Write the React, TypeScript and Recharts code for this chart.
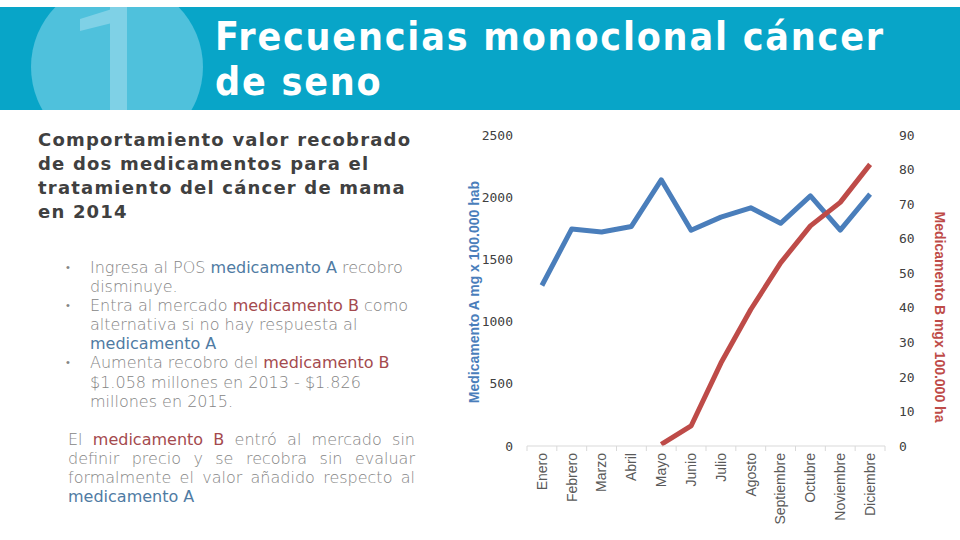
import { Line, LineChart, XAxis, YAxis } from "recharts";

const months = [
  "Enero",
  "Febrero",
  "Marzo",
  "Abril",
  "Mayo",
  "Junio",
  "Julio",
  "Agosto",
  "Septiembre",
  "Octubre",
  "Noviembre",
  "Diciembre",
];
const medicamentoA = [1290, 1745, 1720, 1765, 2140, 1735, 1840, 1915, 1790, 2010, 1735, 2025];
const medicamentoB = [null, null, null, null, 0.5, 5.8, 24, 39.5, 53, 63.7, 70.5, 81.5];
const ticksA = [0, 500, 1000, 1500, 2000, 2500];
const ticksB = [0, 10, 20, 30, 40, 50, 60, 70, 80, 90];

const data = months.map((month, i) => ({
  month,
  a: medicamentoA[i],
  b: medicamentoB[i],
}));

const blue = "#4a7ebb";
const red = "#be4b48";
const grayText = "#858585";
const blueText = "#4f7ba3";
const redText = "#a44a4e";

const CHART_W = 500;
const CHART_H = 420;
const LEFT_W = 67;
const RIGHT_W = 75;
const BAND = (CHART_W - LEFT_W - RIGHT_W) / months.length;

const tickFont = { fontSize: 13, fill: "#404040", fontFamily: '"DejaVu Sans Mono", monospace' };

function MonthTick(props: any) {
  const { x, y, payload, index } = props;
  const axisY = y - 7;
  const last = index === months.length - 1 || payload.value === months[months.length - 1];
  return (
    <g>
      <line x1={x - BAND / 2} x2={x - BAND / 2} y1={axisY} y2={axisY + 5} stroke="#d9d9d9" />
      {last && <line x1={x + BAND / 2} x2={x + BAND / 2} y1={axisY} y2={axisY + 5} stroke="#d9d9d9" />}
      <text
        x={x}
        y={y}
        transform={`rotate(-90, ${x}, ${y})`}
        textAnchor="end"
        dy="0.35em"
        fontSize={14}
        fill="#595959"
        fontFamily='"Liberation Sans", Arial, sans-serif'
      >
        {payload.value}
      </text>
    </g>
  );
}

const A = ({ children }: { children: string }) => <span style={{ color: blueText, fontWeight: 400 }}>{children}</span>;
const B = ({ children }: { children: string }) => <span style={{ color: redText, fontWeight: 400 }}>{children}</span>;

export default function App() {
  const bodyFont: React.CSSProperties = {
    fontFamily: '"DejaVu Sans", Verdana, sans-serif',
    fontSize: 16,
    fontWeight: 200,
    color: grayText,
    whiteSpace: "nowrap",
  };
  const bulletLines: { bullet: boolean; content: React.ReactNode }[] = [
    { bullet: true, content: <>Ingresa al POS <A>medicamento A</A> recobro</> },
    { bullet: false, content: <>disminuye.</> },
    { bullet: true, content: <>Entra al mercado <B>medicamento B</B> como</> },
    { bullet: false, content: <>alternativa si no hay respuesta al</> },
    { bullet: false, content: <A>medicamento A</A> },
    { bullet: true, content: <>Aumenta recobro del <B>medicamento B</B></> },
    { bullet: false, content: <>$1.058 millones en 2013 - $1.826</> },
    { bullet: false, content: <>millones en 2015.</> },
  ];
  const paraLines: React.ReactNode[] = [
    <>El <B>medicamento B</B> entró al mercado sin</>,
    <>definir precio y se recobra sin evaluar</>,
    <>formalmente el valor añadido respecto al</>,
    <A>medicamento A</A>,
  ];

  return (
    <div
      style={{
        position: "absolute",
        left: 0,
        top: 0,
        width: 960,
        height: 540,
        background: "#ffffff",
        overflow: "hidden",
      }}
    >
      {/* header band */}
      <div style={{ position: "absolute", left: 0, top: 7, width: 960, height: 103, background: "#08a5c8", overflow: "hidden" }}>
        <svg width={960} height={103} style={{ position: "absolute", left: 0, top: 0 }}>
          <circle cx={117} cy={60} r={86} fill="#4fc1dc" />
          <polygon points="110,0 127,0 127,103 110,103" fill="#7fd1e6" />
          <polygon points="112,2 80,12 80,24 112,16" fill="#7fd1e6" />
        </svg>
        <div
          style={{
            position: "absolute",
            left: 215,
            top: 7,
            color: "#ffffff",
            fontFamily: '"DejaVu Sans Condensed", "DejaVu Sans", sans-serif',
            fontStretch: "condensed",
            fontWeight: 700,
            fontSize: 39,
            letterSpacing: 1.8,
            lineHeight: "45px",
            whiteSpace: "nowrap",
          }}
        >
          Frecuencias monoclonal cáncer
          <br />
          de seno
        </div>
      </div>

      {/* subtitle */}
      <div
        style={{
          position: "absolute",
          left: 38,
          top: 128,
          fontFamily: '"DejaVu Sans", Verdana, sans-serif',
          fontWeight: 700,
          fontSize: 18,
          lineHeight: "24px",
          letterSpacing: 1.2,
          color: "#404040",
          whiteSpace: "nowrap",
        }}
      >
        Comportamiento valor recobrado
        <br />
        de dos medicamentos para el
        <br />
        tratamiento del cáncer de mama
        <br />
        en 2014
      </div>

      {/* bullets */}
      <div style={{ position: "absolute", left: 66, top: 257.5, ...bodyFont, lineHeight: "19.2px" }}>
        {bulletLines.map((l, i) => (
          <div key={i} style={{ position: "relative", paddingLeft: 24, height: 19.2 }}>
            {l.bullet && <span style={{ position: "absolute", left: 0, fontSize: 11 }}>•</span>}
            {l.content}
          </div>
        ))}
      </div>

      {/* paragraph */}
      <div style={{ position: "absolute", left: 68, top: 429.5, width: 347, ...bodyFont, lineHeight: "19.3px" }}>
        {paraLines.map((l, i) => (
          <div
            key={i}
            style={{ textAlign: "justify", textAlignLast: i < paraLines.length - 1 ? "justify" : "left", height: 19.3 }}
          >
            {l}
          </div>
        ))}
      </div>

      {/* axis titles */}
      <div
        style={{
          position: "absolute",
          left: 474,
          top: 292,
          transform: "translate(-50%, -50%) rotate(-90deg)",
          color: blue,
          fontFamily: '"Liberation Sans", Arial, sans-serif',
          fontWeight: 700,
          fontSize: 14,
          whiteSpace: "nowrap",
        }}
      >
        Medicamento A mg x 100.000 hab
      </div>
      <div
        style={{
          position: "absolute",
          left: 940,
          top: 317,
          transform: "translate(-50%, -50%) rotate(90deg)",
          color: red,
          fontFamily: '"Liberation Sans", Arial, sans-serif',
          fontWeight: 700,
          fontSize: 14,
          whiteSpace: "nowrap",
        }}
      >
        Medicamento B mgx 100.000 ha
      </div>

      {/* chart */}
      <div style={{ position: "absolute", left: 460, top: 120 }}>
        <LineChart width={CHART_W} height={CHART_H} data={data} margin={{ top: 15, right: 0, bottom: 0, left: 0 }}>
          <XAxis
            dataKey="month"
            height={94}
            interval={0}
            padding={{ left: BAND / 2, right: BAND / 2 }}
            tickLine={false}
            tickSize={0}
            tickMargin={7}
            axisLine={{ stroke: "#d9d9d9" }}
            tick={(p: any) => <MonthTick {...p} />}
          />
          <YAxis
            yAxisId="left"
            width={LEFT_W}
            domain={[0, 2500]}
            ticks={ticksA}
            axisLine={false}
            tickLine={false}
            tickSize={0}
            tickMargin={14}
            tick={tickFont}
          />
          <YAxis
            yAxisId="right"
            orientation="right"
            width={RIGHT_W}
            domain={[0, 90]}
            ticks={ticksB}
            axisLine={false}
            tickLine={false}
            tickSize={0}
            tickMargin={14}
            tick={tickFont}
          />
          <Line
            yAxisId="left"
            type="linear"
            dataKey="a"
            stroke={blue}
            strokeWidth={5}
            strokeLinejoin="round"
            dot={false}
            activeDot={false}
            isAnimationActive={false}
          />
          <Line
            yAxisId="right"
            type="linear"
            dataKey="b"
            stroke={red}
            strokeWidth={5}
            strokeLinejoin="round"
            dot={false}
            activeDot={false}
            isAnimationActive={false}
          />
        </LineChart>
      </div>
    </div>
  );
}
